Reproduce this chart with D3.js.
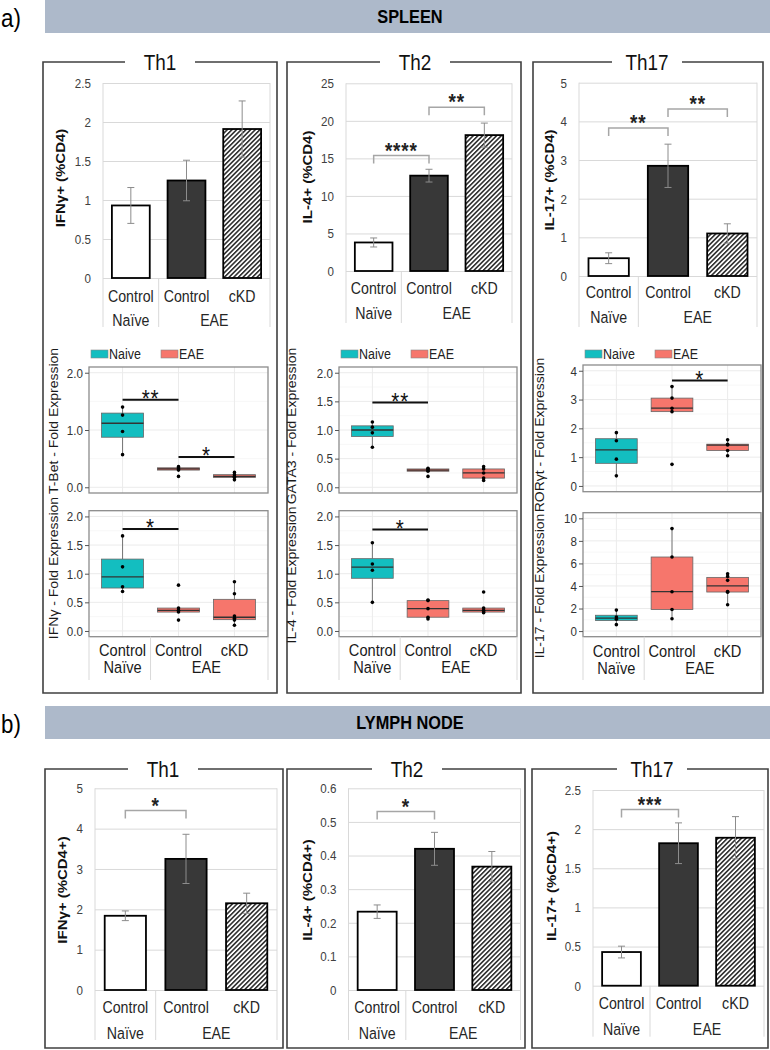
<!DOCTYPE html>
<html>
<head>
<meta charset="utf-8">
<script src="https://cdn.jsdelivr.net/npm/d3@7"></script>
<style>
  body { margin: 0; background: #fff; }
  svg { display: block; font-family: "Liberation Sans", Arial, sans-serif; }
</style>
</head>
<body>
<div id="wrapper"></div>
<script>
// categories
const cats = ["Control", "Control", "cKD"];
const groupNames = ["Naïve", "EAE"];
const legendNames = ["Naive", "EAE"];

// spleen, flow cytometry (% CD4)
const spleenIFNg = [0.93, 1.25, 1.91];
const spleenIFNgErr = [0.23, 0.26, 0.36];
const spleenIL4 = [3.8, 12.7, 18.1];
const spleenIL4Err = [0.6, 0.85, 1.6];
const spleenIL17 = [0.46, 2.85, 1.1];
const spleenIL17Err = [0.14, 0.56, 0.25];

// lymph node, flow cytometry (% CD4+)
const lnIFNg = [1.84, 3.25, 2.15];
const lnIFNgErr = [0.12, 0.61, 0.25];
const lnIL4 = [0.233, 0.42, 0.367];
const lnIL4Err = [0.02, 0.049, 0.045];
const lnIL17 = [0.43, 1.82, 1.89];
const lnIL17Err = [0.075, 0.26, 0.27];

// bar chart tick labels
const ticksSpleenTh1 = [0, 0.5, 1, 1.5, 2, 2.5];
const ticksSpleenTh2 = [0, 5, 10, 15, 20, 25];
const ticksSpleenTh17 = [0, 1, 2, 3, 4, 5];
const ticksLnTh1 = [0, 1, 2, 3, 4, 5];
const ticksLnTh2 = [0, 0.1, 0.2, 0.3, 0.4, 0.5, 0.6];
const ticksLnTh17 = [0, 0.5, 1, 1.5, 2, 2.5];

// qPCR fold expression, individual animals
const tbet = [[0.57, 0.975, 1.26, 1.40], [0.19, 0.30, 0.32, 0.34, 0.36], [0.13, 0.17, 0.19, 0.22, 0.26]];
const ifngFold = [[0.69, 0.77, 1.12, 1.66], [0.19, 0.33, 0.36, 0.40, 0.80], [0.10, 0.19, 0.22, 0.26, 0.65, 0.86]];
const gata3 = [[0.70, 0.95, 1.05, 1.14], [0.19, 0.28, 0.30, 0.32, 0.33], [0.12, 0.16, 0.25, 0.32, 0.36]];
const il4Fold = [[0.50, 1.06, 1.17, 1.54], [0.21, 0.24, 0.39, 0.53, 0.54], [0.32, 0.33, 0.36, 0.40, 0.68]];
const rorgt = [[0.35, 0.93, 1.57, 1.85], [0.75, 2.58, 2.70, 3.05, 3.45], [1.05, 1.23, 1.42, 1.45, 1.60]];
const il17Fold = [[0.57, 1.05, 1.25, 1.86], [1.09, 1.91, 3.49, 6.57, 9.09], [2.34, 3.45, 3.50, 4.50, 4.85, 5.09]];

const ticksTbet = [0, 1, 2];
const ticksHalf = [0, 0.5, 1, 1.5, 2];
const ticksRorgt = [0, 1, 2, 3, 4];
const ticksIl17 = [0, 2, 4, 6, 8, 10];

// significance marks
const sigSpleenTh2 = [{a: 0, b: 1, y: 15.4, label: "****"}, {a: 1, b: 2, y: 21.8, label: "**"}];
const sigSpleenTh17 = [{a: 0, b: 1, y: 3.83, label: "**"}, {a: 1, b: 2, y: 4.32, label: "**"}];
const sigLnTh1 = [{a: 0, b: 1, y: 4.45, label: "*"}];
const sigLnTh2 = [{a: 0, b: 1, y: 0.531, label: "*"}];
const sigLnTh17 = [{a: 0, b: 1, y: 2.25, label: "***"}];
const sigTbet = [{a: 0, b: 1, y: 1.53, label: "**"}, {a: 1, b: 2, y: 0.53, label: "*"}];
const sigGata3 = [{a: 0, b: 1, y: 1.48, label: "**"}];
const sigIfngFold = [{a: 0, b: 1, y: 1.78, label: "*"}];
const sigIl4Fold = [{a: 0, b: 1, y: 1.77, label: "*"}];
const sigRorgt = [{a: 1, b: 2, y: 3.66, label: "*"}];

const W = 770, H = 1050;
const SX = 0.86; // source figure is squeezed horizontally
const teal = "#13BEC0", salmon = "#F6766C";

const svg = d3.select("#wrapper").append("svg").attr("width", W).attr("height", H);

const pat = svg.append("defs").append("pattern")
  .attr("id", "hatch").attr("patternUnits", "userSpaceOnUse")
  .attr("width", 3.3).attr("height", 3.3).attr("patternTransform", "rotate(45)");
pat.append("rect").attr("width", 3.3).attr("height", 3.3).attr("fill", "#fff");
pat.append("line").attr("x1", 1.6).attr("x2", 1.6).attr("y1", 0).attr("y2", 3.3)
  .attr("stroke", "#111").attr("stroke-width", 1.4);

function txt(g, x, y, s, o = {}) {
  return g.append("text")
    .attr("transform", `translate(${x},${y}) scale(${SX},1)` + (o.rot ? " rotate(-90)" : ""))
    .attr("text-anchor", o.anchor || "middle")
    .attr("dominant-baseline", "central")
    .style("font-size", (o.size || 14) + "px")
    .style("font-weight", o.weight || "normal")
    .attr("fill", o.fill || "#000")
    .text(s);
}

function star(g, x, cy, label, size, weight, fill) {
  return g.append("text")
    .attr("transform", `translate(${x},${cy + 0.575 * size}) scale(${SX},1)`)
    .attr("text-anchor", "middle")
    .style("font-size", size + "px")
    .style("font-weight", weight)
    .style("letter-spacing", "1px")
    .attr("fill", fill)
    .text(label);
}

function header(y0, y1, label, tag) {
  svg.append("rect").attr("x", 45).attr("y", y0).attr("width", W - 45).attr("height", y1 - y0).attr("fill", "#adb9ca");
  txt(svg, 410, (y0 + y1) / 2, label, {size: 19, weight: "bold"});
  txt(svg, 1, (y0 + y1) / 2 + 1, tag, {size: 26, anchor: "start"});
}

function frame(x0, y0, x1, y1, title, tx) {
  const gap = 35;
  svg.append("path")
    .attr("d", `M${tx - gap},${y0}H${x0}V${y1}H${x1}V${y0}H${tx + gap}`)
    .attr("fill", "none").attr("stroke", "#404040").attr("stroke-width", 1.6);
  txt(svg, tx, y0, title, {size: 22, fill: "#111"});
}

function barChart(c) {
  const g = svg.append("g");
  const y = d3.scaleLinear().domain([0, d3.max(c.ticks)]).range([c.yBase, c.yTop]);
  const x = d3.scaleBand().domain([0, 1, 2]).range([c.x0, c.x1]).paddingInner(0.32).paddingOuter(0.16);
  const cx = i => x(i) + x.bandwidth() / 2;

  const grid = g.append("g").attr("transform", `translate(${c.x0},0)`)
    .call(d3.axisLeft(y).tickValues(c.ticks).tickSize(-(c.x1 - c.x0)).tickFormat(""));
  grid.select(".domain").remove();
  grid.selectAll("line").attr("stroke", "#d9d9d9");

  const ax = g.append("g").attr("transform", `translate(${c.x0},0)`)
    .call(d3.axisLeft(y).tickValues(c.ticks).tickSize(0).tickFormat(d => String(+d.toFixed(2))));
  ax.attr("font-family", null).attr("font-size", null);
  ax.select(".domain").remove();
  ax.selectAll("text").attr("x", 0).attr("dy", "0.32em")
    .attr("transform", `translate(-12,0) scale(${SX},1)`)
    .style("font-size", "13.5px").attr("fill", "#404040");

  const sep = (cx(0) + x.bandwidth() / 2 + x(1)) / 2;
  [[c.x0, c.yTop], [c.x1, c.yTop], [sep, c.yBase]].forEach(([xx, yy]) => {
    g.append("line").attr("x1", xx).attr("x2", xx).attr("y1", yy).attr("y2", c.tableBottom)
      .attr("stroke", "#d9d9d9").attr("stroke-width", 1);
  });

  const fills = ["#fff", "#383838", "url(#hatch)"];
  g.selectAll("rect.bar").data(c.vals).join("rect").attr("class", "bar")
    .attr("x", (d, i) => x(i)).attr("width", x.bandwidth())
    .attr("y", d => y(d)).attr("height", d => c.yBase - y(d))
    .attr("fill", (d, i) => fills[i]).attr("stroke", "#000").attr("stroke-width", 1.8);

  c.vals.forEach((v, i) => {
    const e = c.errs[i];
    const eg = g.append("g").attr("stroke", "#8c8c8c").attr("stroke-width", 1);
    eg.append("line").attr("x1", cx(i)).attr("x2", cx(i)).attr("y1", y(v + e)).attr("y2", y(v - e));
    eg.append("line").attr("x1", cx(i) - 3.5).attr("x2", cx(i) + 3.5).attr("y1", y(v + e)).attr("y2", y(v + e));
    eg.append("line").attr("x1", cx(i) - 3.5).attr("x2", cx(i) + 3.5).attr("y1", y(v - e)).attr("y2", y(v - e));
  });

  cats.forEach((s, i) => txt(g, cx(i), c.row1, s, {size: 16.5, fill: "#262626"}));
  txt(g, cx(0), c.row2, groupNames[0], {size: 16.5, fill: "#262626"});
  txt(g, (cx(1) + cx(2)) / 2, c.row2, groupNames[1], {size: 16.5, fill: "#262626"});

  (c.sig || []).forEach(s => {
    const xa = cx(s.a), xb = cx(s.b), yy = y(s.y);
    g.append("path").attr("d", `M${xa},${yy + 8}V${yy}H${xb}V${yy + 8}`)
      .attr("fill", "none").attr("stroke", "#a6a6a6").attr("stroke-width", 1.5);
    star(g, (xa + xb) / 2, yy - 10.5, s.label, 22, "bold", "#222");
  });

  txt(g, c.ylx, c.yly, c.ylabel, {size: 15, weight: "bold", rot: true, fill: "#111"});
}

function boxChart(c) {
  const g = svg.append("g");
  const y = d3.scaleLinear().domain(c.lim).range([c.yBot, c.yTop]);
  const x = d3.scalePoint().domain([0, 1, 2]).range([c.x0, c.x1]).padding(0.6);
  const step = x.step();

  g.append("rect").attr("x", c.x0).attr("y", c.yTop).attr("width", c.x1 - c.x0).attr("height", c.yBot - c.yTop).attr("fill", "#fff");
  const minor = d3.pairs(c.ticks).map(([a, b]) => (a + b) / 2);
  minor.forEach(v => g.append("line").attr("x1", c.x0).attr("x2", c.x1).attr("y1", y(v)).attr("y2", y(v)).attr("stroke", "#f2f2f2").attr("stroke-width", 0.6));
  c.ticks.forEach(v => g.append("line").attr("x1", c.x0).attr("x2", c.x1).attr("y1", y(v)).attr("y2", y(v)).attr("stroke", "#ebebeb").attr("stroke-width", 1));
  [0, 1, 2].forEach(i => g.append("line").attr("x1", x(i)).attr("x2", x(i)).attr("y1", c.yTop).attr("y2", c.yBot).attr("stroke", "#ebebeb").attr("stroke-width", 1));

  const half = step * 0.375;
  c.pts.forEach((arr, i) => {
    const s = arr.slice().sort(d3.ascending);
    const q1 = d3.quantile(s, 0.25), med = d3.quantile(s, 0.5), q3 = d3.quantile(s, 0.75);
    const iqr = q3 - q1;
    const lo = d3.min(s.filter(v => v >= q1 - 1.5 * iqr));
    const hi = d3.max(s.filter(v => v <= q3 + 1.5 * iqr));
    const bx = g.append("g");
    bx.append("line").attr("x1", x(i)).attr("x2", x(i)).attr("y1", y(q3)).attr("y2", y(hi)).attr("stroke", "#555").attr("stroke-width", 0.8);
    bx.append("line").attr("x1", x(i)).attr("x2", x(i)).attr("y1", y(q1)).attr("y2", y(lo)).attr("stroke", "#555").attr("stroke-width", 0.8);
    bx.append("rect").attr("x", x(i) - half).attr("width", 2 * half)
      .attr("y", y(q3)).attr("height", Math.max(1, y(q1) - y(q3)))
      .attr("fill", i === 0 ? teal : salmon).attr("stroke", "#666").attr("stroke-width", 0.8);
    bx.append("line").attr("x1", x(i) - half).attr("x2", x(i) + half).attr("y1", y(med)).attr("y2", y(med)).attr("stroke", "#333").attr("stroke-width", 1.3);
    bx.selectAll("circle").data(s).join("circle")
      .attr("cx", x(i)).attr("cy", d => y(d)).attr("r", 1.8).attr("fill", "#000");
  });

  g.append("rect").attr("x", c.x0).attr("y", c.yTop).attr("width", c.x1 - c.x0).attr("height", c.yBot - c.yTop)
    .attr("fill", "none").attr("stroke", "#8c8c8c").attr("stroke-width", 1.3);

  const ax = g.append("g").attr("transform", `translate(${c.x0},0)`)
    .call(d3.axisLeft(y).tickValues(c.ticks).tickSize(4).tickFormat(c.fmt));
  ax.attr("font-family", null).attr("font-size", null);
  ax.select(".domain").remove();
  ax.selectAll("line").attr("stroke", "#555");
  ax.selectAll("text").attr("x", 0).attr("dy", "0.32em")
    .attr("transform", `translate(-6,0) scale(${SX},1)`)
    .style("font-size", "13.5px").attr("fill", "#333");

  (c.sig || []).forEach(s => {
    const yy = y(s.y);
    g.append("line").attr("x1", x(s.a)).attr("x2", x(s.b)).attr("y1", yy).attr("y2", yy).attr("stroke", "#111").attr("stroke-width", 2);
    star(g, (x(s.a) + x(s.b)) / 2, yy - 6.5, s.label, 24, "normal", "#111");
  });

  if (c.legendY) {
    [c.x0 + 2, c.x0 + 72].forEach((lx, i) => {
      g.append("rect").attr("x", lx).attr("y", c.legendY - 4).attr("width", 17).attr("height", 8)
        .attr("fill", i === 0 ? teal : salmon).attr("stroke", "#888").attr("stroke-width", 0.6);
      txt(g, lx + 18, c.legendY, legendNames[i], {size: 14.5, anchor: "start", fill: "#222"});
    });
  }

  if (c.row1) {
    const sep = (x(0) + x(1)) / 2;
    [c.x0, sep, c.x1].forEach(xx => g.append("line").attr("x1", xx).attr("x2", xx).attr("y1", c.yBot).attr("y2", c.tableBottom).attr("stroke", "#d9d9d9"));
    cats.forEach((s, i) => txt(g, x(i), c.row1, s, {size: 17, fill: "#1a1a1a"}));
    txt(g, x(0), c.row2, groupNames[0], {size: 17, fill: "#1a1a1a"});
    txt(g, (x(1) + x(2)) / 2, c.row2, groupNames[1], {size: 17, fill: "#1a1a1a"});
  }

  txt(g, c.ylx, c.yly, c.ylabel, {size: 14, rot: true, fill: "#1a1a1a"});
}

const f1 = d3.format(".1f"), f0 = d3.format("d");

// ---- a) spleen
header(0, 33, "SPLEEN", "a)");
frame(43, 62, 277, 693, "Th1", 160);
frame(287, 62, 521, 693, "Th2", 415);
frame(533, 62, 763, 693, "Th17", 647);

barChart({vals: spleenIFNg, errs: spleenIFNgErr, ticks: ticksSpleenTh1, x0: 103, x1: 270, yTop: 83, yBase: 278,
  row1: 296, row2: 320, tableBottom: 327, ylabel: "IFNγ+ (%CD4)", ylx: 60, yly: 178});
barChart({vals: spleenIL4, errs: spleenIL4Err, ticks: ticksSpleenTh2, x0: 346, x1: 512, yTop: 83.3, yBase: 271,
  row1: 288.3, row2: 313, tableBottom: 323, ylabel: "IL-4+ (%CD4)", ylx: 307, yly: 177, sig: sigSpleenTh2});
barChart({vals: spleenIL17, errs: spleenIL17Err, ticks: ticksSpleenTh17, x0: 579, x1: 757, yTop: 82.7, yBase: 276,
  row1: 291.7, row2: 316.7, tableBottom: 327, ylabel: "IL-17+ (%CD4)", ylx: 549, yly: 180, sig: sigSpleenTh17});

boxChart({pts: tbet, ticks: ticksTbet, fmt: f1, lim: [-0.1, 2.1], x0: 89, x1: 268, yTop: 367, yBot: 493,
  legendY: 354, sig: sigTbet, ylabel: "T-Bet - Fold Expression", ylx: 54, yly: 421});
boxChart({pts: ifngFold, ticks: ticksHalf, fmt: f1, lim: [-0.1, 2.1], x0: 89, x1: 268, yTop: 510.7, yBot: 636.7,
  sig: sigIfngFold, row1: 650, row2: 667, tableBottom: 680, ylabel: "IFNγ - Fold Expression", ylx: 54, yly: 568});
boxChart({pts: gata3, ticks: ticksHalf, fmt: f1, lim: [-0.1, 2.1], x0: 339, x1: 517, yTop: 367, yBot: 493,
  legendY: 354, sig: sigGata3, ylabel: "GATA3 - Fold Expression", ylx: 292, yly: 426});
boxChart({pts: il4Fold, ticks: ticksHalf, fmt: f1, lim: [-0.1, 2.1], x0: 339, x1: 517, yTop: 510.7, yBot: 636.7,
  sig: sigIl4Fold, row1: 650, row2: 667, tableBottom: 680, ylabel: "IL-4 - Fold Expression", ylx: 292, yly: 575});
boxChart({pts: rorgt, ticks: ticksRorgt, fmt: f0, lim: [-0.2, 4.2], x0: 583, x1: 761, yTop: 365, yBot: 491.7,
  legendY: 354, sig: sigRorgt, ylabel: "RORγt - Fold Expression", ylx: 540, yly: 435});
boxChart({pts: il17Fold, ticks: ticksIl17, fmt: f0, lim: [-0.5, 10.5], x0: 583, x1: 761, yTop: 512.7, yBot: 636.7,
  row1: 651, row2: 668, tableBottom: 680, ylabel: "IL-17 - Fold Expression", ylx: 540, yly: 586});

// ---- b) lymph node
header(706, 739, "LYMPH NODE", "b)");
frame(45, 769, 283, 1048, "Th1", 163);
frame(287, 769, 525, 1048, "Th2", 407);
frame(532, 769, 768, 1048, "Th17", 652);

barChart({vals: lnIFNg, errs: lnIFNgErr, ticks: ticksLnTh1, x0: 95, x1: 277, yTop: 788.3, yBase: 990,
  row1: 1007.3, row2: 1033.3, tableBottom: 1040, ylabel: "IFNγ+ (%CD4+)", ylx: 62.5, yly: 890, sig: sigLnTh1});
barChart({vals: lnIL4, errs: lnIL4Err, ticks: ticksLnTh2, x0: 348.5, x1: 520.5, yTop: 788.3, yBase: 990,
  row1: 1007, row2: 1033, tableBottom: 1040, ylabel: "IL-4+ (%CD4+)", ylx: 307.5, yly: 890, sig: sigLnTh2});
barChart({vals: lnIL17, errs: lnIL17Err, ticks: ticksLnTh17, x0: 593, x1: 764, yTop: 790, yBase: 985.7,
  row1: 1003.3, row2: 1029.3, tableBottom: 1036.7, ylabel: "IL-17+ (%CD4+)", ylx: 551, yly: 886, sig: sigLnTh17});
</script>
</body>
</html>
